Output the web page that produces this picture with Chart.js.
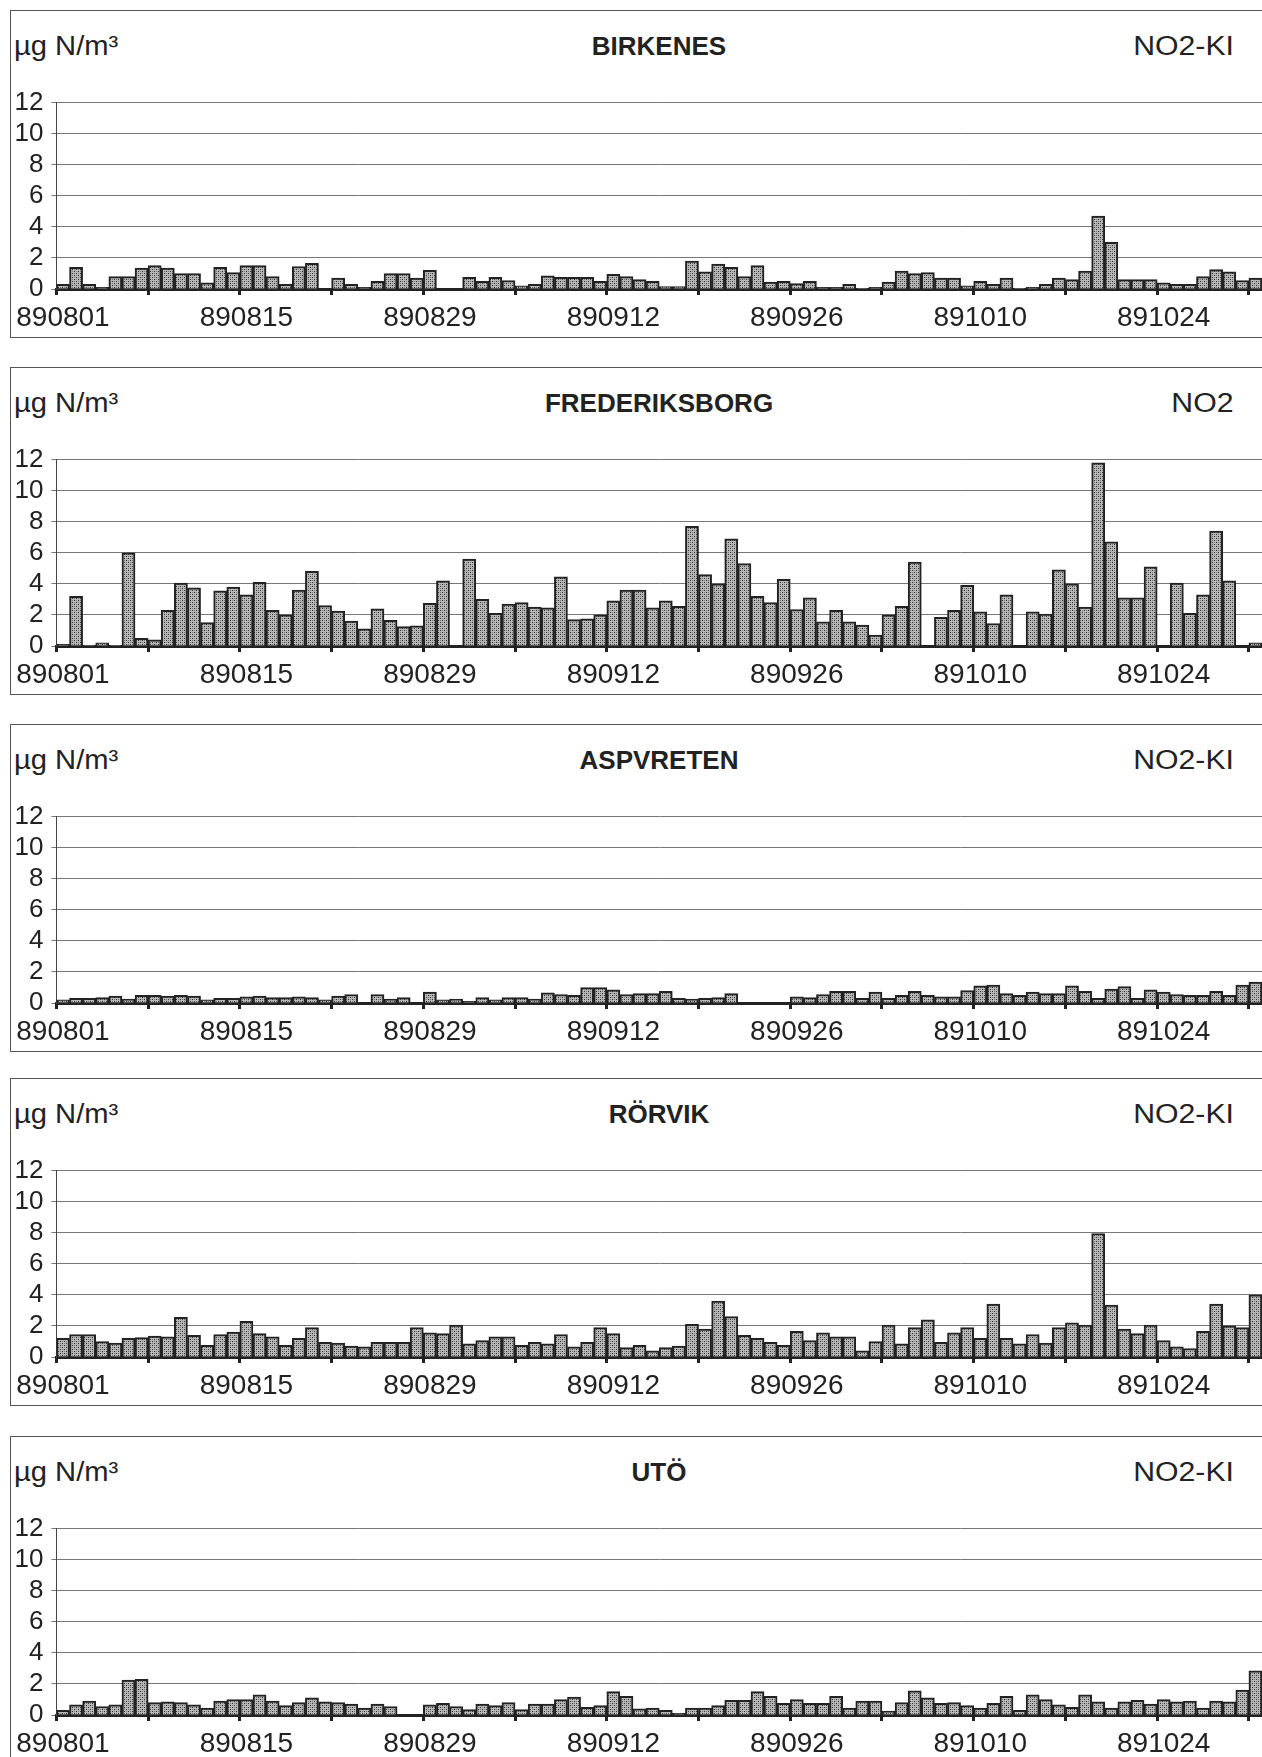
<!DOCTYPE html>
<html>
<head>
<meta charset="utf-8">
<script src="https://cdn.jsdelivr.net/npm/chart.js@4"></script>
<style>
  body { margin:0; width:1262px; height:1757px; overflow:hidden; position:relative; background:#fff;
         font-family:"Liberation Sans", Arial, sans-serif; color:#222; }
  .box { position:absolute; left:10px; width:1300px; height:328px; border:1px solid #555; box-sizing:border-box; }
  .txt { position:absolute; font-size:27px; line-height:30px; white-space:nowrap; }
  .unit { left:14px; transform:scaleX(1.08); transform-origin:left center; }
  .title { left:659px; transform:translateX(-50%); font-weight:bold; font-size:26px; }
  .comp { right:28px; text-align:right; transform:scaleX(1.12); transform-origin:right center; }
  canvas { position:absolute; left:10px; }
</style>
</head>
<body>
<script>
// stasjoner
const STATIONS = ["BIRKENES", "FREDERIKSBORG", "ASPVRETEN", "RÖRVIK", "UTÖ"];
const COMPONENTS = ["NO2-KI", "NO2", "NO2-KI", "NO2-KI", "NO2-KI"];
const UNIT = "µg N/m³";
const Y_TICKS = [0, 2, 4, 6, 8, 10, 12];

// dager 890801 - 891031
const MONTHS = [["08", 31], ["09", 30], ["10", 31]];
const DAYS = [];
MONTHS.forEach(m => {
    for (let d = 1; d <= m[1]; d++) DAYS.push("89" + m[0] + String(d).padStart(2, "0"));
});

// døgnverdier, µg N/m3 (null = mangler)
const birkenes = [0.3,1.4,0.3,0.1,0.8,0.8,1.35,1.5,1.35,1.0, 1.0,0.4,1.4,1.05,1.5,1.5,0.8,0.3,1.45,1.65,
    null,0.7,0.3,0.1,0.5,1.0,1.0,0.7,1.2,null, null,0.75,0.5,0.75,0.55,0.2,0.3,0.85,0.75,0.75,
    0.75,0.5,0.95,0.8,0.6,0.5,0.15,0.15,1.8,1.1, 1.6,1.4,0.8,1.5,0.45,0.5,0.35,0.5,0.1,0.1,
    0.3,0.05,0.1,0.45,1.15,1.0,1.05,0.7,0.7,0.2, 0.5,0.3,0.7,0.05,0.1,0.3,0.7,0.6,1.15,4.7,
    3.0,0.6,0.6,0.6,0.4,0.3,0.3,0.8,1.25,1.1, 0.55,0.7];
const frederiksborg = [0.1,3.2,0.05,0.2,0.05,6.0,0.5,0.4,2.3,4.05, 3.75,1.5,3.55,3.8,3.3,4.1,2.3,2.0,3.6,4.8,
    2.6,2.25,1.6,1.1,2.4,1.65,1.25,1.3,2.75,4.2, null,5.6,3.0,2.1,2.7,2.8,2.5,2.45,4.45,1.7,
    1.75,2.0,2.9,3.6,3.6,2.45,2.9,2.55,7.7,4.6, 4.0,6.9,5.3,3.2,2.8,4.3,2.35,3.1,1.55,2.3,
    1.55,1.35,0.7,2.0,2.55,5.4,null,1.85,2.3,3.9, 2.2,1.45,3.3,null,2.2,2.05,4.9,4.0,2.5,11.8,
    6.7,3.1,3.1,5.1,null,4.05,2.1,3.3,7.4,4.2, 0,0.2];
const aspvreten = [0.2,0.3,0.3,0.35,0.45,0.25,0.5,0.5,0.45,0.5, 0.45,0.2,0.3,0.3,0.4,0.45,0.35,0.35,0.4,0.35,
    0.2,0.45,0.55,null,0.55,0.25,0.35,null,0.7,0.2, 0.25,0.1,0.35,0.2,0.35,0.35,0.25,0.65,0.55,0.5,
    1.0,1.0,0.85,0.55,0.6,0.6,0.75,0.3,0.25,0.3, 0.35,0.6,null,null,null,null,0.4,0.35,0.55,0.75,
    0.75,0.3,0.7,0.3,0.5,0.75,0.5,0.4,0.4,0.8, 1.1,1.15,0.6,0.5,0.7,0.6,0.6,1.1,0.75,0.3,
    0.9,1.05,0.3,0.85,0.7,0.55,0.5,0.5,0.75,0.5, 1.15,1.35];
const rorvik = [1.2,1.45,1.45,1.0,0.9,1.2,1.25,1.35,1.3,2.55, 1.4,0.75,1.45,1.6,2.3,1.5,1.3,0.75,1.2,1.9,
    0.95,0.9,0.7,0.65,0.95,0.95,0.95,1.9,1.55,1.5, 2.05,0.85,1.05,1.3,1.3,0.75,0.95,0.85,1.45,0.65,
    0.95,1.9,1.5,0.6,0.75,0.4,0.6,0.7,2.1,1.8, 3.6,2.6,1.4,1.2,0.95,0.75,1.65,1.05,1.55,1.3,
    1.3,0.4,1.0,2.05,0.85,1.9,2.4,0.95,1.55,1.9, 1.2,3.4,1.2,0.85,1.45,0.9,1.9,2.2,2.05,7.95,
    3.35,1.8,1.5,2.05,1.05,0.65,0.55,1.65,3.4,2.0, 1.9,4.0];
const uto = [0.3,0.65,0.9,0.55,0.65,2.25,2.3,0.8,0.85,0.8, 0.65,0.45,0.9,1.0,1.0,1.3,0.9,0.6,0.8,1.1,
    0.85,0.8,0.7,0.45,0.7,0.55,null,null,0.65,0.75, 0.55,0.35,0.7,0.6,0.8,0.35,0.7,0.7,1.0,1.15,
    0.5,0.6,1.5,1.2,0.4,0.45,0.3,0.1,0.45,0.45, 0.6,0.95,0.95,1.5,1.2,0.75,1.0,0.75,0.75,1.2,
    0.45,0.9,0.9,0.25,0.8,1.55,1.1,0.75,0.8,0.6, 0.45,0.75,1.2,0.3,1.3,1.0,0.65,0.5,1.3,0.85,
    0.45,0.85,0.95,0.7,1.0,0.85,0.9,0.45,0.9,0.85, 1.6,2.85];

const SERIES = [birkenes, frederiksborg, aspvreten, rorvik, uto];
const PANEL_TOPS = [10, 367, 724, 1078, 1436];
const FONT = "'Liberation Sans', Arial, sans-serif";

// prikkete grå fyll som i originalen
function makePattern(ctx) {
    const pc = document.createElement("canvas");
    pc.width = 4; pc.height = 4;
    const g = pc.getContext("2d");
    g.fillStyle = "#b8b8b8"; g.fillRect(0, 0, 4, 4);
    g.fillStyle = "#333"; g.fillRect(0, 0, 1, 1); g.fillRect(2, 2, 1, 1);
    g.fillStyle = "#777"; g.fillRect(2, 0, 1, 1); g.fillRect(0, 2, 1, 1);
    return ctx.createPattern(pc, "repeat");
}

function addText(cls, text, top) {
    const el = document.createElement("div");
    el.className = "txt " + cls;
    el.style.top = top + "px";
    el.textContent = text;
    document.body.appendChild(el);
}

STATIONS.forEach((name, i) => {
    const top = PANEL_TOPS[i];
    const box = document.createElement("div");
    box.className = "box";
    box.style.top = top + "px";
    document.body.appendChild(box);

    addText("unit", UNIT, top + 21);
    addText("title", name, top + 21);
    addText("comp", COMPONENTS[i], top + 21);

    const cv = document.createElement("canvas");
    cv.width = 1252; cv.height = 256;
    cv.style.top = (top + 69) + "px";
    document.body.appendChild(cv);
    const ctx = cv.getContext("2d");

    new Chart(ctx, {
        type: "bar",
        data: {
            labels: DAYS,
            datasets: [{
                data: SERIES[i],
                backgroundColor: makePattern(ctx),
                borderColor: "#222",
                borderWidth: 2,
                barPercentage: 1,
                categoryPercentage: 1
            }]
        },
        options: {
            responsive: false,
            animation: false,
            devicePixelRatio: 1,
            layout: { padding: { top: 7, right: 0, left: 0, bottom: 0 } },
            plugins: { legend: { display: false }, tooltip: { enabled: false } },
            scales: {
                x: {
                    offset: true,
                    grid: {
                        offset: true, drawOnChartArea: false, drawTicks: true, tickLength: 6, lineWidth: 3,
                        color: c => (c.index % 7 === 0 ? "#222" : "rgba(0,0,0,0)")
                    },
                    border: { display: true, color: "#222", width: 3 },
                    ticks: {
                        autoSkip: false, maxRotation: 0, minRotation: 0, padding: 6,
                        color: "#222", font: { family: FONT, size: 28 },
                        callback: (v, idx) => (idx % 14 === 0 ? DAYS[idx] : "")
                    },
                    afterFit: s => { s.height = 46; }
                },
                y: {
                    min: 0, max: 12,
                    afterBuildTicks: s => { s.ticks = Y_TICKS.map(v => ({ value: v })); },
                    grid: { color: "#777", lineWidth: 1, tickLength: 5 },
                    border: { display: true, color: "#444", width: 1 },
                    ticks: { autoSkip: false, stepSize: 2, padding: 8, color: "#222", font: { family: FONT, size: 26 } },
                    afterFit: s => { s.width = 46; }
                }
            }
        }
    });
});
</script>
</body>
</html>
